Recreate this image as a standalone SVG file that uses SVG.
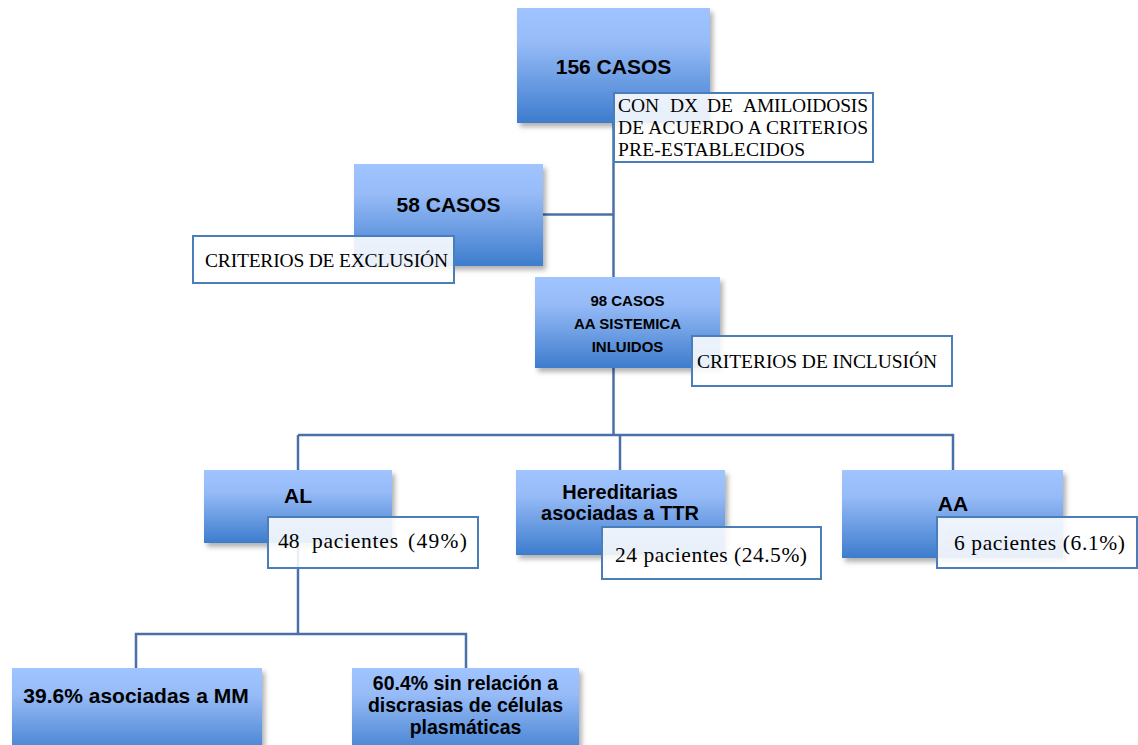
<svg xmlns="http://www.w3.org/2000/svg" width="1138" height="745" viewBox="0 0 1138 745">
<defs>
<linearGradient id="bg" x1="0" y1="0" x2="0" y2="1">
<stop offset="0" stop-color="#9fc4ff"/>
<stop offset="0.3" stop-color="#96bbf7"/>
<stop offset="1" stop-color="#3d7ccd"/>
</linearGradient>
<filter id="sh" x="-10%" y="-10%" width="130%" height="130%">
<feDropShadow dx="3" dy="4" stdDeviation="2.5" flood-color="#000" flood-opacity="0.3"/>
</filter>
</defs>
<style>
.box{fill:url(#bg);filter:url(#sh)}
.bt{font-family:"Liberation Sans",Arial,sans-serif;font-weight:bold;fill:#000;text-anchor:middle}
.lb{fill:#fff;fill-opacity:0.88;stroke:#4a7ebb;stroke-width:2}
.lt{font-family:"Liberation Serif","Times New Roman",serif;fill:#000}
.cn{fill:none;stroke:#4a70a8;stroke-width:2.5}
</style>
<rect width="1138" height="745" fill="#fff"/>
<g id="connectors">
<path class="cn" d="M613.5 123 V277"/>
<path class="cn" d="M543 214.5 H613.5"/>
<path class="cn" d="M613.5 368 V435"/>
<path class="cn" d="M298 435 H953 V470"/>
<path class="cn" d="M298 435 V470"/>
<path class="cn" d="M620 435 V470"/>
<path class="cn" d="M298 543 V634"/>
<path class="cn" d="M136 668 V634 H466 V668"/>
</g>
<g id="n156">
<rect class="box" x="517" y="8" width="193" height="115"/>
<text class="bt" x="613.5" y="74" font-size="21">156 CASOS</text>
</g>
<g id="n58">
<rect class="box" x="354" y="164" width="189" height="102"/>
<text class="bt" x="448.5" y="212" font-size="21">58 CASOS</text>
</g>
<g id="n98">
<rect class="box" x="535" y="277" width="185" height="91"/>
<text class="bt" x="627.5" y="306" font-size="15">98 CASOS</text>
<text class="bt" x="627.5" y="329" font-size="15">AA SISTEMICA</text>
<text class="bt" x="627.5" y="352" font-size="15">INLUIDOS</text>
</g>
<g id="nAL">
<rect class="box" x="204" y="470" width="188" height="73"/>
<text class="bt" x="298" y="503" font-size="21">AL</text>
</g>
<g id="nTTR">
<rect class="box" x="516" y="470" width="209" height="85"/>
<text class="bt" x="620" y="499" font-size="20">Hereditarias</text>
<text class="bt" x="620" y="520" font-size="20">asociadas a TTR</text>
</g>
<g id="nAA">
<rect class="box" x="842" y="470" width="221" height="88"/>
<text class="bt" x="953" y="511" font-size="21">AA</text>
</g>
<g id="nMM">
<rect class="box" x="12" y="668" width="250" height="90"/>
<text class="bt" x="136" y="703" font-size="21">39.6% asociadas a MM</text>
</g>
<g id="nSin">
<rect class="box" x="352" y="668" width="227" height="90"/>
<text class="bt" x="465.5" y="690" font-size="19.5">60.4% sin relación a</text>
<text class="bt" x="465.5" y="712" font-size="19.5">discrasias de células</text>
<text class="bt" x="465.5" y="734" font-size="19.5">plasmáticas</text>
</g>
<g id="l156">
<rect class="lb" x="614" y="93" width="259" height="69"/>
<text class="lt" font-size="19.5" y="112"><tspan x="618">CON</tspan><tspan x="670">DX</tspan><tspan x="707">DE</tspan><tspan x="743" textLength="125">AMILOIDOSIS</tspan></text>
<text class="lt" font-size="19.5" x="618" y="134" textLength="250">DE ACUERDO A CRITERIOS</text>
<text class="lt" font-size="19.5" x="618" y="156" textLength="187">PRE-ESTABLECIDOS</text>
</g>
<g id="lExc">
<rect class="lb" x="193" y="236" width="261" height="47"/>
<text class="lt" font-size="19.5" x="205" y="267" textLength="243">CRITERIOS DE EXCLUSIÓN</text>
</g>
<g id="lInc">
<rect class="lb" x="692" y="336" width="260" height="50"/>
<text class="lt" font-size="19.5" x="697" y="368" textLength="240">CRITERIOS DE INCLUSIÓN</text>
</g>
<g id="lAL">
<rect class="lb" x="268" y="517" width="210" height="51"/>
<text class="lt" font-size="21.5" y="548"><tspan x="278">48</tspan><tspan x="312" textLength="86">pacientes</tspan><tspan x="408" textLength="59">(49%)</tspan></text>
</g>
<g id="lTTR">
<rect class="lb" x="602" y="527" width="219" height="52"/>
<text class="lt" font-size="21.5" x="615" y="562" textLength="192">24 pacientes (24.5%)</text>
</g>
<g id="lAA">
<rect class="lb" x="937" y="517" width="200" height="51"/>
<text class="lt" font-size="21.5" x="954" y="550" textLength="171">6 pacientes (6.1%)</text>
</g>
</svg>
